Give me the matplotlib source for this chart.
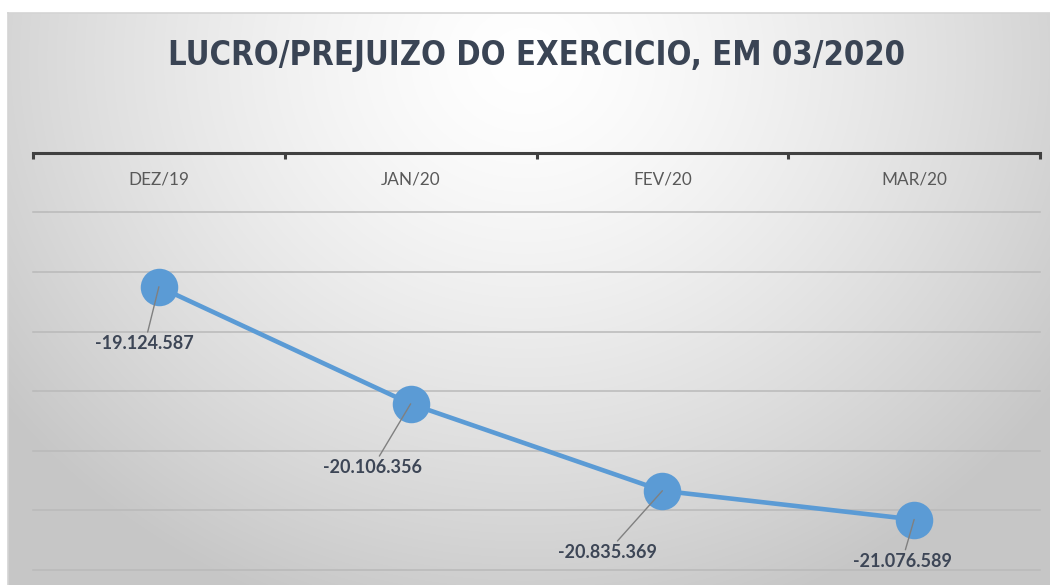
import numpy as np
import matplotlib.pyplot as plt
import matplotlib.transforms as mtransforms

# dados do grafico
categorias = ['DEZ/19', 'JAN/20', 'FEV/20', 'MAR/20']
resultado = [-19124587, -20106356, -20835369, -21076589]
rotulos = ['-19.124.587', '-20.106.356', '-20.835.369', '-21.076.589']
titulo = 'LUCRO/PREJUIZO DO EXERCICIO, EM 03/2020'

W, H = 1050, 585
fig = plt.figure(figsize=(W / 100, H / 100), dpi=100)
fig.patch.set_facecolor('white')

# fundo com gradiente radial (estilo excel)
x0, y0 = 8, 13
bg = fig.add_axes([x0 / W, 0, 1 - x0 / W, (H - y0) / H])
xx, yy = np.meshgrid(np.arange(x0, W), np.arange(y0, H))
d = np.sqrt(((xx - 525) / 620) ** 2 + ((yy - 60) / 560) ** 2)
v = 255 - 57 * np.clip(d / 1.05, 0, 1) ** 1.4
img = np.dstack([v, v, v]) / 255
bg.imshow(img, aspect='auto', interpolation='bilinear')
bg.set_axis_off()
# borda fina do quadro
fig.add_artist(plt.Line2D([x0 / W, 1], [1 - y0 / H, 1 - y0 / H], color='#d4d4d4', lw=1.2))
fig.add_artist(plt.Line2D([x0 / W, x0 / W], [0, 1 - y0 / H], color='#d4d4d4', lw=1.2))

# area do grafico
left, right, top, bottom = 33, 1040, 152.7, 570
ax = fig.add_axes([left / W, (H - bottom) / H, (right - left) / W, (bottom - top) / H])
ax.set_facecolor('none')
ax.set_xlim(-0.5, 3.5)
ax.set_ylim(-21.5e6, -18.0e6)

ax.set_yticks(np.arange(-21.5e6, -18.0e6, 0.5e6))
ax.yaxis.grid(True, color='#b9b9b9', lw=1.1)
ax.tick_params(axis='y', left=False, labelleft=False)
for g in ax.get_ygridlines():
    g.set_clip_on(False)

for s in ['left', 'right', 'bottom']:
    ax.spines[s].set_visible(False)
ax.spines['top'].set_color('#404040')
ax.spines['top'].set_linewidth(2.2)
ax.set_xticks(np.arange(-0.5, 4, 1))
ax.tick_params(axis='x', top=True, bottom=False, labelbottom=False, labeltop=False,
               direction='in', length=4, width=2.2, color='#404040')

trans = mtransforms.blended_transform_factory(ax.transData, ax.transAxes)
for i, c in enumerate(categorias):
    ax.text(i, 0.935, c, transform=trans, ha='center', va='center',
            fontsize=12.3, color='#595959', family=['Lato', 'DejaVu Sans'])

ax.plot(range(len(resultado)), resultado, '-o', color='#5b9bd5', lw=3.3,
        ms=27, markerfacecolor='#5b9bd5', markeredgewidth=0, zorder=3, clip_on=False)

# rotulos com linhas de chamada
desloc = [(-14, -55), (-38, -62), (-55, -60), (-12, -40)]
for i, (val, txt) in enumerate(zip(resultado, rotulos)):
    ax.annotate(txt, xy=(i, val), xytext=desloc[i], textcoords='offset pixels',
                ha='center', va='center_baseline', fontsize=13, fontweight='bold',
                color='#3d4656', family=['Lato', 'DejaVu Sans'], zorder=4,
                arrowprops=dict(arrowstyle='-', color='#808080', lw=1,
                                shrinkA=0, shrinkB=0))

t = fig.text(536 / W, 1 - 56 / H, titulo, ha='center', va='center', fontsize=28,
             fontweight='bold', color='#3a4454', family='DejaVu Sans',
             fontstretch='condensed')
# ajusta o tamanho do titulo para a largura do original (~737 px)
r = fig.canvas.get_renderer()
w = t.get_window_extent(r).width
t.set_fontsize(28 * min(1.0, 737 / w))

fig.savefig('out.png', dpi=100)
